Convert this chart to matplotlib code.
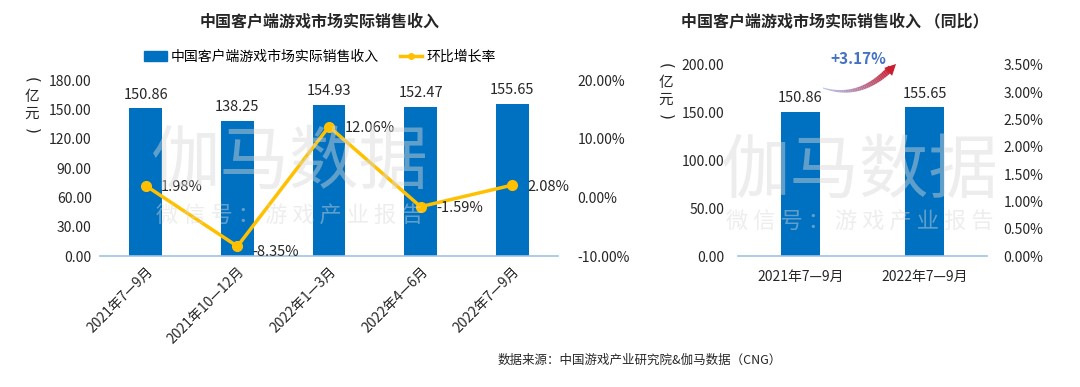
import matplotlib
matplotlib.use("Agg")
import matplotlib.pyplot as plt
import numpy as np
from matplotlib.lines import Line2D
from matplotlib.patches import Patch, FancyArrowPatch

plt.rcParams['font.family'] = ['Noto Sans CJK SC', 'DejaVu Sans']

# ---- data ----
categories = ["2021年7—9月", "2021年10—12月", "2022年1—3月", "2022年4—6月", "2022年7—9月"]
revenue = [150.86, 138.25, 154.93, 152.47, 155.65]
qoq_growth = [1.98, -8.35, 12.06, -1.59, 2.08]

yoy_categories = ["2021年7—9月", "2022年7—9月"]
yoy_revenue = [150.86, 155.65]
yoy_change = "+3.17%"

left_ticks = [0, 30, 60, 90, 120, 150, 180]
left_pct_ticks = [-10, 0, 10, 20]
right_ticks = [0, 50, 100, 150, 200]
right_pct_ticks = [0, 0.5, 1.0, 1.5, 2.0, 2.5, 3.0, 3.5]

BLUE = "#0070C0"
YELLOW = "#FFC000"
AXIS = "#9DC3E6"
TXT = "#262626"

fig = plt.figure(figsize=(10.8, 3.87), dpi=100)
W, H = 1080, 387

def fx(x):
    return x / W

def fy(y):
    return 1 - y / H

def unit_label(xc, ytop, step=15):
    fig.text(fx(xc), fy(ytop), "(", rotation=-90, ha="center", va="center",
             fontsize=11, color=TXT, family="DejaVu Sans")
    fig.text(fx(xc), fy(ytop + step + 2), "亿", ha="center", va="center",
             fontsize=10.5, color=TXT)
    fig.text(fx(xc), fy(ytop + 2 * step + 4), "元", ha="center", va="center",
             fontsize=10.5, color=TXT)
    fig.text(fx(xc), fy(ytop + 3 * step + 6), ")", rotation=-90, ha="center",
             va="center", fontsize=11, color=TXT, family="DejaVu Sans")

# ---------- left chart ----------
ax = fig.add_axes([fx(100), fy(256), fx(558) - fx(100), fy(80) - fy(256)])
x = np.arange(len(categories))
ax.bar(x, revenue, width=0.36, color=BLUE, zorder=2)
ax.set_xlim(-0.5, len(categories) - 0.5)
ax.set_ylim(0, 180)
ax.set_yticks(left_ticks)
ax.set_yticklabels([f"{v:.2f}" for v in left_ticks], fontsize=10, color=TXT)
ax.set_xticks(x)
ax.set_xticklabels(categories, rotation=45, ha="right", rotation_mode="anchor",
                   fontsize=10, color=TXT)
ax.tick_params(length=0, pad=6)
for s in ["top", "right", "left"]:
    ax.spines[s].set_visible(False)
ax.spines["bottom"].set_color(AXIS)
ax.spines["bottom"].set_linewidth(1.2)
for xi, v in zip(x, revenue):
    ax.text(xi, v + 7, f"{v:.2f}", ha="center", va="bottom", fontsize=10.5, color=TXT)

ax2 = ax.twinx()
ax2.plot(x, qoq_growth, color=YELLOW, lw=2.5, marker="o", ms=7, zorder=3)
ax2.set_ylim(-10, 20)
ax2.set_yticks(left_pct_ticks)
ax2.set_yticklabels([f"{v:.2f}%" for v in left_pct_ticks], fontsize=10, color=TXT)
ax2.tick_params(length=0, pad=14)
for s in ["top", "right", "left", "bottom"]:
    ax2.spines[s].set_visible(False)
for xi, v in zip(x, qoq_growth):
    ax2.annotate(f"{v:.2f}%", (xi, v), xytext=(11, -1 if v > -5 else -4),
                 textcoords="offset points", ha="left", va="center",
                 fontsize=10.5, color=TXT)

fig.text(fx(320), fy(22), "中国客户端游戏市场实际销售收入", ha="center", va="center",
         fontsize=11.5, fontweight="bold", color=TXT)
handles = [Patch(color=BLUE), Line2D([0], [0], color=YELLOW, lw=2.5, marker="o", ms=4)]
fig.legend(handles, ["中国客户端游戏市场实际销售收入", "环比增长率"],
           loc="center", bbox_to_anchor=(fx(320), fy(57)), ncol=2, frameon=False,
           fontsize=10, handlelength=1.6, handleheight=0.7, columnspacing=1.5,
           handletextpad=0.3)
unit_label(32, 80)

# watermark left
fig.text(fx(290), fy(163), "伽马数据", ha="center", va="center", fontsize=50,
         color="#d9d9d9", alpha=0.45, zorder=10)
fig.text(fx(290), fy(216), "微 信 号 ： 游 戏 产 业 报 告", ha="center", va="center",
         fontsize=16, color="#d9d9d9", alpha=0.45, zorder=10)

# ---------- right chart ----------
bx = fig.add_axes([fx(738), fy(256), fx(987) - fx(738), fy(65) - fy(256)])
xr = np.arange(len(yoy_categories))
bx.bar(xr, yoy_revenue, width=0.31, color=BLUE, zorder=2)
bx.set_xlim(-0.5, len(yoy_categories) - 0.5)
bx.set_ylim(0, 200)
bx.set_yticks(right_ticks)
bx.set_yticklabels([f"{v:.2f}" for v in right_ticks], fontsize=10, color=TXT)
bx.set_xticks(xr)
bx.set_xticklabels(yoy_categories, fontsize=10, color=TXT)
bx.tick_params(length=0, pad=10)
for s in ["top", "right", "left"]:
    bx.spines[s].set_visible(False)
bx.spines["bottom"].set_color(AXIS)
bx.spines["bottom"].set_linewidth(1.2)
for xi, v in zip(xr, yoy_revenue):
    bx.text(xi, v + 7, f"{v:.2f}", ha="center", va="bottom", fontsize=10.5, color=TXT)

bx2 = bx.twinx()
bx2.set_ylim(0, 3.5)
bx2.set_yticks(right_pct_ticks)
bx2.set_yticklabels([f"{v:.2f}%" for v in right_pct_ticks], fontsize=10, color=TXT)
bx2.tick_params(length=0, pad=12)
for s in ["top", "right", "left", "bottom"]:
    bx2.spines[s].set_visible(False)

fig.text(fx(835), fy(22), "中国客户端游戏市场实际销售收入 （同比）", ha="center",
         va="center", fontsize=11.5, fontweight="bold", color=TXT)
unit_label(666, 66)

# curved gradient arrow
p0 = np.array([823, 88]); p1 = np.array([860, 100]); p2 = np.array([891, 68])
t = np.linspace(0, 1, 40)
pts = ((1 - t)[:, None] ** 2) * p0 + (2 * (1 - t) * t)[:, None] * p1 + (t ** 2)[:, None] * p2
c0 = np.array([0.42, 0.50, 0.80]); c1 = np.array([0.80, 0.12, 0.18])
for i in range(len(pts) - 1):
    f = i / (len(pts) - 2)
    col = c0 * (1 - f) + c1 * f
    fig.add_artist(Line2D([fx(pts[i][0]), fx(pts[i + 1][0])],
                          [fy(pts[i][1]), fy(pts[i + 1][1])],
                          color=col, lw=0.8 + 4 * f, solid_capstyle="butt",
                          alpha=0.45 + 0.55 * f))
fig.add_artist(FancyArrowPatch((fx(885), fy(75)), (fx(898), fy(62)),
                               arrowstyle="-|>", mutation_scale=20,
                               color="#C8202E", lw=0))
fig.text(fx(858), fy(59), yoy_change, ha="center", va="center", fontsize=11,
         fontweight="bold", color="#4472C4")

# watermark right
fig.text(fx(860), fy(172), "伽马数据", ha="center", va="center", fontsize=50,
         color="#d9d9d9", alpha=0.45, zorder=10)
fig.text(fx(860), fy(222), "微 信 号 ： 游 戏 产 业 报 告", ha="center", va="center",
         fontsize=16, color="#d9d9d9", alpha=0.45, zorder=10)

fig.text(fx(640), fy(360), "数据来源：中国游戏产业研究院&伽马数据（CNG）", ha="center",
         va="center", fontsize=9, color=TXT)

fig.savefig("out.png", dpi=100)
